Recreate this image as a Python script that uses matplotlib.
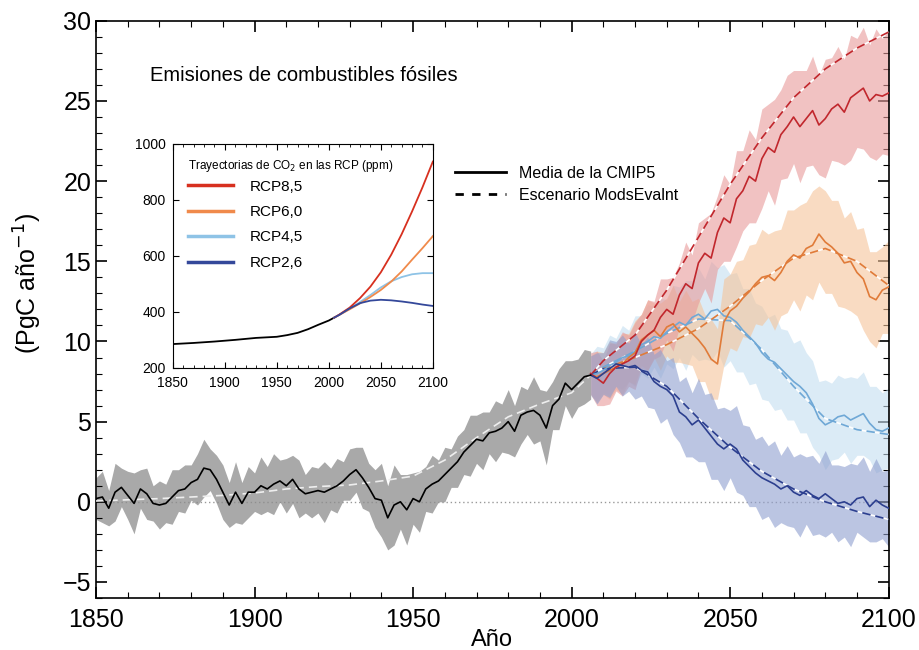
import numpy as np
import matplotlib.pyplot as plt
from matplotlib.ticker import MultipleLocator
from matplotlib.lines import Line2D

plt.rcParams['font.family'] = ['Liberation Sans', 'DejaVu Sans']

# ---- historical CMIP5 mean (PgC/yr), read every 2 years ----
hist_years = list(range(1850, 2007, 2))
hist_mean = [0.2, 0.3, -0.4, 0.6, 0.9, 0.4, -0.1, 0.8, 0.5, -0.1,
             -0.2, -0.1, 0.3, 0.7, 0.8, 1.2, 1.4, 2.1, 2.0, 1.4,
             0.6, -0.2, 0.6, -0.1, 0.6, 0.6, 1.0, 0.8, 1.1, 1.3,
             1.0, 1.4, 0.8, 0.5, 0.6, 0.7, 0.6, 0.8, 1.0, 1.3,
             1.7, 2.0, 1.5, 0.9, 0.2, 0.1, -1.0, -0.2, 0.0, -0.5,
             0.2, 0.0, 0.8, 1.1, 1.3, 1.7, 2.1, 2.5, 3.1, 3.5,
             3.9, 3.8, 4.3, 4.4, 4.6, 5.0, 4.4, 5.4, 5.6, 5.7,
             5.4, 4.6, 6.0, 6.4, 7.4, 7.0, 7.4, 7.8, 7.9]
hist_spread = [1.3, 1.6, 1.1, 1.8, 1.2, 1.5, 1.9, 1.2, 1.6, 1.1,
               1.5, 1.2, 1.7, 1.3, 1.5, 1.1, 1.6, 1.8, 1.3, 1.5,
               1.7, 1.4, 1.9, 1.3, 1.6, 1.2, 1.8, 1.4, 1.9, 1.3,
               1.7, 1.5, 1.8, 1.2, 1.6, 1.4, 1.9, 1.3, 1.7, 1.2,
               1.6, 1.4, 1.9, 1.5, 1.8, 2.3, 2.0, 2.5, 1.7, 2.2,
               1.6, 1.9, 1.4, 1.8, 1.3, 1.7, 1.2, 1.6, 1.4, 1.9,
               1.5, 1.8, 1.3, 1.9, 1.5, 2.0, 1.6, 1.8, 1.4, 2.1,
               1.6, 2.3, 1.5, 1.9, 1.4, 1.8, 1.5, 1.7, 1.5]
hist_sc_years = [1850, 1870, 1880, 1890, 1900, 1910, 1920, 1930, 1940,
                 1950, 1960, 1970, 1980, 1990, 2000, 2006]
hist_sc = [0.05, 0.2, 0.3, 0.4, 0.55, 0.8, 0.95, 1.05, 1.3,
           1.6, 2.6, 4.0, 5.3, 6.1, 6.8, 7.9]

# ---- RCP projections ----
rcp_years = list(range(2006, 2101, 2))
rcp85_mean = [8.0, 7.7, 7.4, 8.0, 8.4, 8.6, 8.8, 9.1, 10.0, 10.4,
              10.7, 11.5, 12.0, 11.7, 12.9, 13.6, 13.3, 14.9, 15.5, 15.2,
              16.8, 17.7, 17.4, 18.9, 19.4, 20.3, 20.0, 21.4, 22.1, 21.8,
              22.9, 23.4, 24.0, 23.4, 23.9, 24.4, 23.5, 23.9, 24.5, 24.8,
              24.3, 25.2, 25.5, 25.8, 25.0, 25.4, 25.3, 25.5]
rcp85_spread = [1.3, 1.7, 1.4, 1.9, 1.5, 2.0, 1.6, 2.1, 1.7, 2.2,
                1.8, 2.4, 1.9, 2.3, 2.0, 2.6, 2.1, 2.5, 2.2, 2.8,
                2.3, 2.7, 2.4, 3.0, 2.5, 2.9, 2.6, 3.1, 2.7, 3.3,
                2.8, 3.2, 2.9, 3.5, 3.0, 3.4, 3.1, 3.7, 3.2, 3.6,
                3.3, 3.9, 3.4, 3.8, 3.5, 4.1, 3.6, 3.9]
rcp60_mean = [7.9, 7.8, 8.0, 8.2, 8.4, 8.6, 9.0, 9.3, 10.1, 10.4,
              10.7, 10.3, 10.9, 11.1, 10.6, 10.9, 10.5, 10.1, 9.6, 8.9,
              8.6, 11.2, 11.9, 12.2, 12.7, 13.1, 13.6, 14.0, 14.1, 13.8,
              14.3, 15.0, 15.4, 15.2, 15.8, 16.0, 16.7, 16.2, 15.9, 15.5,
              14.9, 15.0, 14.3, 13.9, 12.8, 12.6, 13.2, 13.4]
rcp60_spread = [1.2, 1.6, 1.3, 1.8, 1.4, 1.9, 1.5, 2.0, 1.6, 2.2,
                1.7, 2.1, 1.8, 2.4, 1.9, 2.3, 2.0, 2.6, 2.1, 2.5,
                2.2, 2.7, 2.3, 2.8, 2.4, 2.9, 2.5, 3.0, 2.6, 3.1,
                2.7, 3.2, 2.8, 3.3, 2.9, 3.4, 3.0, 3.2, 2.9, 3.3,
                2.8, 3.1, 2.7, 3.2, 2.8, 3.0, 2.7, 2.9]
rcp45_mean = [7.9, 8.0, 8.2, 8.5, 8.7, 9.0, 9.1, 9.4, 9.8, 10.0,
              10.3, 10.2, 10.6, 10.9, 11.2, 11.0, 11.5, 11.7, 11.4, 11.9,
              12.0, 11.6, 11.5, 11.2, 10.7, 10.3, 9.9, 9.3, 8.9, 8.7,
              8.3, 7.9, 7.5, 7.2, 6.8, 6.1, 5.2, 4.8, 5.0, 5.3,
              5.4, 5.1, 5.3, 5.5, 4.9, 4.5, 4.4, 4.6]
rcp45_spread = [1.3, 1.7, 1.4, 1.9, 1.5, 2.0, 1.6, 2.2, 1.8, 2.3,
                1.9, 2.5, 2.0, 2.6, 2.2, 2.8, 2.3, 2.9, 2.5, 3.1,
                2.6, 3.2, 2.7, 3.1, 2.6, 3.0, 2.5, 2.9, 2.6, 3.0,
                2.5, 2.8, 2.4, 2.9, 2.5, 2.7, 2.3, 2.8, 2.4, 2.6,
                2.3, 2.7, 2.4, 2.6, 2.3, 2.7, 2.4, 2.5]
rcp26_mean = [7.9, 7.7, 8.0, 8.3, 8.6, 8.5, 8.4, 8.5, 8.2, 8.1,
              7.5, 7.2, 7.0, 6.6, 5.6, 5.3, 4.8, 5.1, 4.6, 4.1,
              3.6, 3.3, 3.6, 3.3, 2.6, 2.2, 1.8, 1.5, 1.3, 1.1,
              0.8, 1.0, 0.6, 0.4, 0.7, 0.4, 0.2, 0.5, 0.2, -0.1,
              0.0, -0.2, 0.2, 0.3, -0.3, 0.1, -0.2, -0.4]
rcp26_spread = [1.2, 1.6, 1.3, 1.8, 1.4, 1.9, 1.5, 2.1, 1.6, 2.2,
                1.7, 2.3, 1.8, 2.4, 1.9, 2.5, 2.0, 2.6, 2.1, 2.7,
                2.2, 2.6, 2.1, 2.7, 2.2, 2.5, 2.1, 2.6, 2.2, 2.7,
                2.1, 2.5, 2.2, 2.6, 2.1, 2.5, 2.2, 2.7, 2.1, 2.4,
                2.2, 2.6, 2.1, 2.5, 2.2, 2.6, 2.1, 2.4]

sc_years = [2006, 2010, 2020, 2030, 2040, 2050, 2060, 2070, 2080, 2090, 2100]
rcp85_sc = [7.9, 8.8, 10.4, 13.2, 16.5, 19.8, 22.7, 25.2, 27.0, 28.3, 29.3]
rcp60_sc = [7.9, 8.3, 9.0, 9.8, 10.8, 12.2, 13.8, 15.2, 15.8, 15.0, 13.5]
rcp45_sc = [7.9, 8.4, 9.4, 10.5, 11.4, 11.3, 9.5, 7.2, 5.2, 4.5, 4.2]
rcp26_sc = [7.9, 8.3, 8.4, 7.2, 5.2, 3.4, 1.9, 0.8, 0.0, -0.6, -1.1]

# ---- inset: CO2 concentration (ppm) ----
co2_hist_years = [1850, 1870, 1890, 1910, 1930, 1950, 1960, 1970, 1980, 1990, 2000, 2005]
co2_hist = [285, 289, 294, 300, 307, 311, 317, 325, 338, 354, 369, 379]
co2_years = [2005, 2010, 2020, 2030, 2040, 2050, 2060, 2070, 2080, 2090, 2100]
co2_85 = [379, 390, 415, 449, 490, 541, 604, 677, 758, 844, 936]
co2_60 = [379, 389, 409, 430, 453, 478, 508, 544, 586, 627, 670]
co2_45 = [379, 389, 411, 435, 460, 487, 509, 524, 534, 538, 538]
co2_26 = [379, 389, 412, 431, 440, 443, 441, 437, 432, 426, 421]

rcp_names = ["RCP8,5", "RCP6,0", "RCP4,5", "RCP2,6"]
line_col = ["#c1272d", "#e07b39", "#6fa8d6", "#2c3f8f"]
band_col = ["#e89a9a", "#f5c49a", "#c4def0", "#8f9fcf"]
inset_col = ["#d7301f", "#f08a4b", "#8ec3e6", "#34489a"]

fig = plt.figure(figsize=(9.19, 6.5), dpi=100)
ax = fig.add_axes([0.1045, 0.08, 0.8625, 0.888])

ax.axhline(0, color="#999999", ls=(0, (1, 2)), lw=1, zorder=0)

# historical
h_mean = np.array(hist_mean)
h_sp = np.array(hist_spread)
ax.fill_between(hist_years, h_mean - h_sp, h_mean + h_sp, color="#8c8c8c",
                alpha=0.75, lw=0, zorder=1)

means = [rcp45_mean, rcp60_mean, rcp85_mean, rcp26_mean]
spreads = [rcp45_spread, rcp60_spread, rcp85_spread, rcp26_spread]
scs = [rcp45_sc, rcp60_sc, rcp85_sc, rcp26_sc]
order = [2, 1, 0, 3]
for k, i in enumerate(order):
    m = np.array(means[k])
    s = np.array(spreads[k])
    ax.fill_between(rcp_years, m - s, m + s, color=band_col[i], alpha=0.6,
                    lw=0, zorder=2)
for k, i in enumerate(order):
    ax.plot(sc_years, scs[k], color=line_col[i], ls=(0, (5, 3)), gapcolor="white",
            lw=1.2, zorder=3)
ax.plot(hist_sc_years, hist_sc, color="#eeeeee", ls=(0, (5, 3)), lw=1.2, zorder=3)
for k, i in enumerate(order):
    ax.plot(rcp_years, means[k], color=line_col[i], lw=1.2, zorder=4)
ax.plot(hist_years, hist_mean, color="black", lw=1.2, zorder=4)

ax.set_xlim(1850, 2100)
ax.set_ylim(-6, 30)
ax.xaxis.set_major_locator(MultipleLocator(50))
ax.xaxis.set_minor_locator(MultipleLocator(10))
ax.yaxis.set_major_locator(MultipleLocator(5))
ax.yaxis.set_minor_locator(MultipleLocator(1))
ax.tick_params(which="both", direction="in", top=True, right=True, labelsize=18)
ax.tick_params(which="major", length=8, width=1.2)
ax.tick_params(which="minor", length=4, width=0.8)
ax.tick_params(axis="x", pad=7)
ax.set_yticklabels(["\u22125" if t == -5 else str(int(t)) for t in ax.get_yticks()])
for sp in ax.spines.values():
    sp.set_linewidth(1.2)
ax.set_xlabel("Año", fontsize=17, labelpad=-2)
ax.set_ylabel("(PgC año$^{-1}$)", fontsize=18)
ax.yaxis.set_label_coords(-0.066, 0.545)
ax.text(0.068, 0.905, "Emisiones de combustibles fósiles", transform=ax.transAxes,
        fontsize=14.5, ha="left", va="center")

handles = [Line2D([], [], color="black", lw=2),
           Line2D([], [], color="black", lw=2, ls=(0, (3, 3)))]
ax.legend(handles, ["Media de la CMIP5", "Escenario ModsEvalnt"],
          loc="upper left", bbox_to_anchor=(0.495, 0.745),
          bbox_transform=fig.transFigure, frameon=False, fontsize=11.5,
          handlelength=3.2, handletextpad=0.8, labelspacing=0.45,
          borderaxespad=0, borderpad=0)

# inset
ins = fig.add_axes([0.188, 0.434, 0.283, 0.345])
ins.plot(co2_hist_years, co2_hist, color="black", lw=1.3)
for i, vals in zip([2, 1, 0, 3], [co2_45, co2_60, co2_85, co2_26]):
    ins.plot(co2_years, vals, color=inset_col[i], lw=1.3)
ins.set_xlim(1850, 2100)
ins.set_ylim(200, 1000)
ins.xaxis.set_major_locator(MultipleLocator(50))
ins.xaxis.set_minor_locator(MultipleLocator(10))
ins.yaxis.set_major_locator(MultipleLocator(200))
ins.tick_params(which="both", direction="in", top=True, right=True, labelsize=10)
ins.tick_params(which="major", length=4)
ins.tick_params(which="minor", length=2)
ins.tick_params(axis="x", pad=6)
ins.tick_params(axis="y", pad=5)
ins.text(0.06, 0.9, "Trayectorias de CO$_2$ en las RCP (ppm)", transform=ins.transAxes,
         fontsize=8.5, ha="left", va="center")
ihandles = [Line2D([], [], color=c, lw=2.5) for c in inset_col]
ins.legend(ihandles, rcp_names, loc="upper left", bbox_to_anchor=(0.06, 0.84),
           frameon=False, fontsize=11, handlelength=2.9, handletextpad=1.1,
           labelspacing=0.75, borderaxespad=0, borderpad=0)

fig.savefig("out.png", dpi=100)
